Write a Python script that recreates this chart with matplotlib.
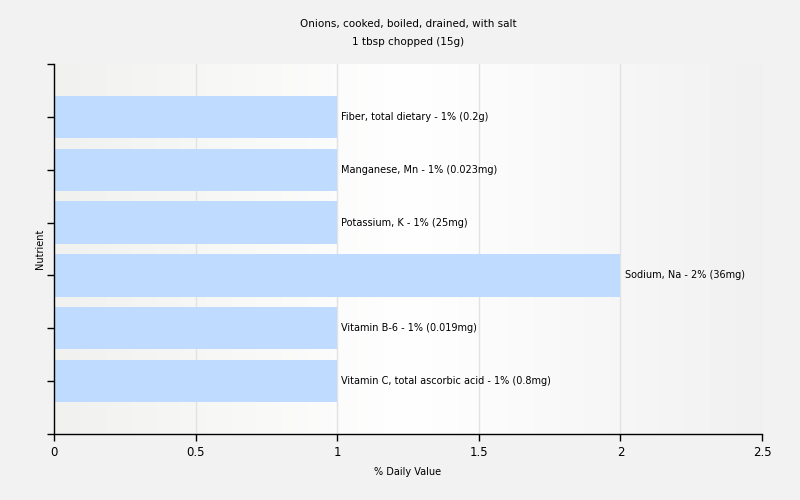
import numpy as np
import matplotlib
matplotlib.use("Agg")
import matplotlib.pyplot as plt
from matplotlib.colors import LinearSegmentedColormap

# данные с графика (снизу вверх)
nutrients = ["Vitamin C, total ascorbic acid", "Vitamin B-6", "Sodium, Na",
             "Potassium, K", "Manganese, Mn", "Fiber, total dietary"]
values = [1, 1, 2, 1, 1, 1]
amounts = ["0.8mg", "0.019mg", "36mg", "25mg", "0.023mg", "0.2g"]

plt.rcParams['font.family'] = ['DejaVu Sans']

fig = plt.figure(figsize=(8, 5), dpi=100, facecolor='#f2f2f2')
ax = fig.add_axes([0.0675, 0.132, 0.885, 0.74])

# градиентный фон области графика
grad = LinearSegmentedColormap.from_list('bg', ['#f1f1ef', '#ffffff', '#f1f1f1'])
ax.imshow(np.linspace(0, 1, 256).reshape(1, -1), cmap=grad, aspect='auto',
          extent=[0, 2.5, 0, 7], zorder=0)

for x in [0.5, 1, 1.5, 2, 2.5]:
    ax.axvline(x, color='#e2e2e2', lw=1, zorder=1)

pos = np.arange(1, len(nutrients) + 1)
ax.barh(pos, values, height=0.8, color='#bfdbff', zorder=2)
for p, v, n, a in zip(pos, values, nutrients, amounts):
    ax.text(v + 0.015, p, f"{n} - {v}% ({a})", va='center', ha='left',
            fontsize=7, zorder=3)

ax.set_xlim(0, 2.5)
ax.set_ylim(0, 7)
ax.set_xticks([0, 0.5, 1, 1.5, 2, 2.5])
ax.set_xticklabels(['0', '0.5', '1', '1.5', '2', '2.5'], fontsize=8.5)
ax.set_yticks(range(0, 8))
ax.set_yticklabels([])
ax.tick_params(axis='both', length=5, width=1, direction='out')
for s in ['top', 'right']:
    ax.spines[s].set_visible(False)
ax.spines['left'].set_linewidth(1)
ax.spines['bottom'].set_linewidth(1)

ax.set_xlabel('% Daily Value', fontsize=7, labelpad=6)
ax.set_ylabel('Nutrient', fontsize=7, labelpad=-2)
ax.set_title('Onions, cooked, boiled, drained, with salt\n1 tbsp chopped (15g)',
             fontsize=7.5, pad=14, linespacing=1.95)

fig.savefig('out.png', dpi=100, facecolor=fig.get_facecolor())
